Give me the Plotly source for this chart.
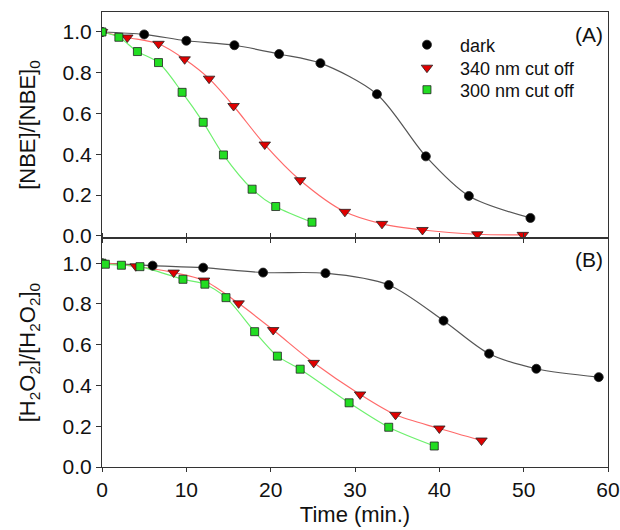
import plotly.graph_objects as go

# ---- Panel A: NBE degradation ----
a_dark_t = [0, 5.0, 10.0, 15.7, 21.0, 25.9, 32.6, 38.4, 43.5, 50.8]
a_dark_c = [1.0, 0.988, 0.957, 0.935, 0.892, 0.847, 0.695, 0.390, 0.196, 0.088]

a_340_t = [0, 3.0, 6.7, 9.8, 12.7, 15.6, 19.3, 23.5, 28.8, 33.2, 38.0, 44.5, 49.9]
a_340_c = [1.0, 0.973, 0.942, 0.866, 0.771, 0.637, 0.448, 0.273, 0.118, 0.059, 0.029, 0.008, 0.005]

a_300_t = [0, 2.0, 4.2, 6.7, 9.5, 12.0, 14.4, 17.8, 20.6, 24.9]
a_300_c = [1.0, 0.974, 0.904, 0.850, 0.704, 0.557, 0.397, 0.229, 0.144, 0.067]

# ---- Panel B: H2O2 consumption ----
b_dark_t = [0, 6.0, 12.0, 19.1, 26.5, 34.0, 40.5, 45.9, 51.5, 58.9]
b_dark_c = [1.0, 0.988, 0.978, 0.954, 0.951, 0.893, 0.718, 0.556, 0.482, 0.441]

b_340_t = [0, 4.0, 8.5, 12.1, 16.2, 20.3, 25.1, 30.6, 34.8, 40.0, 45.0]
b_340_c = [1.0, 0.985, 0.954, 0.915, 0.803, 0.672, 0.511, 0.356, 0.256, 0.189, 0.130]

b_300_t = [0, 0.4, 2.3, 4.5, 9.6, 12.2, 14.7, 18.1, 20.8, 23.5, 29.3, 34.0, 39.4]
b_300_c = [1.0, 0.995, 0.990, 0.983, 0.921, 0.897, 0.831, 0.664, 0.544, 0.480, 0.315, 0.195, 0.103]

x_ticks = [0, 10, 20, 30, 40, 50, 60]
y_ticks = [0.0, 0.2, 0.4, 0.6, 0.8, 1.0]

series_names = ["dark", "340 nm cut off", "300 nm cut off"]

FONT = "Liberation Sans, Arial, sans-serif"
AXIS = "#333333"

styles = {
    "dark": dict(symbol="circle", size=9, fill="#000000", line="#555555"),
    "340 nm cut off": dict(symbol="triangle-down", size=10, fill="#e00000", line="#ff6a6a"),
    "300 nm cut off": dict(symbol="square", size=8, fill="#22dd22", line="#6ef06e"),
}
legend_ids = {"dark": "legend", "340 nm cut off": "legend2", "300 nm cut off": "legend3"}

fig = go.Figure()

panels = [
    ("x", "y", [(a_dark_t, a_dark_c), (a_340_t, a_340_c), (a_300_t, a_300_c)], True),
    ("x2", "y2", [(b_dark_t, b_dark_c), (b_340_t, b_340_c), (b_300_t, b_300_c)], False),
]

# smooth fitted curves first, markers on top
for xa, ya, sets, _ in panels:
    for name, (t, c) in zip(series_names, sets):
        st = styles[name]
        fig.add_trace(go.Scatter(
            x=t, y=c, mode="lines", xaxis=xa, yaxis=ya,
            line=dict(color=st["line"], width=1.2, shape="spline", smoothing=0.85),
            showlegend=False, hoverinfo="skip",
        ))

for xa, ya, sets, legend_on in panels:
    for name, (t, c) in zip(series_names, sets):
        st = styles[name]
        fig.add_trace(go.Scatter(
            x=t, y=c, mode="markers", xaxis=xa, yaxis=ya, name=name,
            marker=dict(symbol=st["symbol"], size=st["size"], color=st["fill"],
                        line=dict(color="#222222", width=0.8)),
            showlegend=legend_on, legend=legend_ids[name],
        ))

split = 0.503
common_axis = dict(
    showgrid=False, zeroline=False, showline=True, linecolor=AXIS, linewidth=1,
    tickcolor=AXIS, tickfont=dict(family=FONT, size=21, color="#111111"),
    automargin=False,
)


def legend_box(center_px):
    # one legend per entry so the row spacing can be set freely
    return dict(
        x=0.577, y=1 - (center_px - 12) / 455, xanchor="left", yanchor="middle",
        bgcolor="rgba(0,0,0,0)", font=dict(family=FONT, size=18, color="#111111"),
        itemwidth=56, borderwidth=0,
    )


fig.update_layout(
    width=620, height=530,
    margin=dict(l=102, r=12, t=12, b=63),
    paper_bgcolor="white", plot_bgcolor="white",
    font=dict(family=FONT, color="#111111"),
    showlegend=True,
    legend=legend_box(45),
    legend2=legend_box(68),
    legend3=legend_box(90),
    xaxis=dict(
        common_axis, range=[0, 60], domain=[0, 1], anchor="y",
        tickvals=x_ticks, showticklabels=False, ticks="outside", ticklen=4,
        mirror=True,
    ),
    yaxis=dict(
        common_axis, range=[-0.011, 1.098], domain=[split, 1], anchor="x",
        tickvals=y_ticks, tickformat=".1f", ticks="outside", ticklen=5, mirror=True,
        title=dict(text="[NBE]/[NBE]<sub>0</sub>", font=dict(family=FONT, size=22), standoff=20),
    ),
    xaxis2=dict(
        common_axis, range=[0, 60], domain=[0, 1], anchor="y2",
        tickvals=x_ticks, ticks="outside", ticklen=4, mirror="ticks",
        title=dict(text="Time (min.)", font=dict(family=FONT, size=22), standoff=6),
    ),
    yaxis2=dict(
        common_axis, range=[0, 1.123], domain=[0, split], anchor="x2",
        tickvals=y_ticks, tickformat=".1f", ticks="outside", ticklen=5, mirror=True,
        title=dict(text="[H<sub>2</sub>O<sub>2</sub>]/[H<sub>2</sub>O<sub>2</sub>]<sub>0</sub>",
                   font=dict(family=FONT, size=22), standoff=20),
    ),
    annotations=[
        dict(text="(A)", x=0.995, y=0.98, xref="paper", yref="paper",
             xanchor="right", yanchor="top", showarrow=False,
             font=dict(family=FONT, size=21, color="#111111")),
        dict(text="(B)", x=0.995, y=0.486, xref="paper", yref="paper",
             xanchor="right", yanchor="top", showarrow=False,
             font=dict(family=FONT, size=21, color="#111111")),
    ],
)

fig.write_html("out.html")
